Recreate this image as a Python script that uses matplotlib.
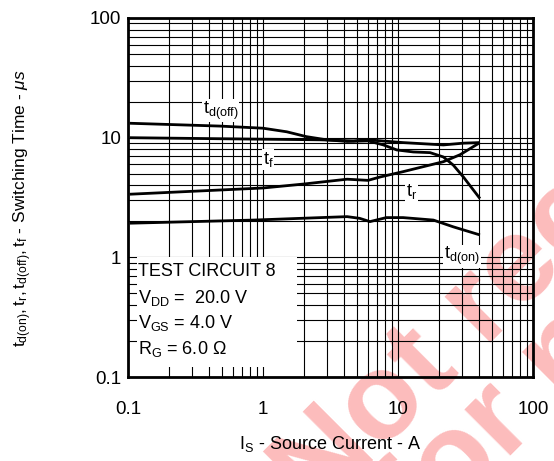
#!/usr/bin/env python3
"""
Switching time vs source current (log-log datasheet style chart).
"""

import matplotlib
matplotlib.use('Agg')
import matplotlib.pyplot as plt
from matplotlib.patches import Rectangle

plt.rcParams['font.family'] = ['Liberation Sans', 'DejaVu Sans']
plt.rcParams['mathtext.fontset'] = 'custom'
plt.rcParams['mathtext.rm'] = 'Liberation Sans'
plt.rcParams['mathtext.it'] = 'Liberation Sans:italic'
plt.rcParams['mathtext.bf'] = 'Liberation Sans:bold'

# Curve data (Is in A, time in us)
td_off_x = [0.103, 0.48, 1.0, 1.5, 2.1, 2.96, 4.2, 6.0, 7.8, 9.8, 13, 17.3, 21.7, 25.7, 30.5, 40.5]
td_off_y = [13.2, 12.5, 12.0, 11.2, 10.2, 9.6, 9.3, 9.4, 8.7, 7.9, 7.6, 7.5, 6.9, 5.9, 4.7, 3.1]

tf_x = [0.103, 0.48, 2.64, 4.7, 6.0, 10.9, 21.7, 30.5, 40.5]
tf_y = [10.0, 9.8, 9.6, 9.4, 9.6, 9.1, 8.7, 9.0, 9.1]

tr_x = [0.103, 1.0, 2.0, 4.2, 6.0, 7.4, 10.9, 21.7, 28.8, 40.5]
tr_y = [3.37, 3.8, 4.1, 4.5, 4.4, 4.7, 5.2, 6.3, 7.2, 9.1]

td_on_x = [0.103, 0.85, 4.2, 5.2, 6.2, 8.2, 10.9, 18.3, 25.7, 40.5]
td_on_y = [1.93, 2.05, 2.19, 2.12, 1.99, 2.15, 2.15, 2.05, 1.80, 1.54]

ticks = [0.1, 1, 10, 100]
tick_labels = ['0.1', '1', '10', '100']

fig = plt.figure(figsize=(5.54, 4.61), dpi=100)
ax = fig.add_axes([0.231, 0.182, 0.731, 0.779])
ax.patch.set_alpha(0)

# watermark behind everything
wm = dict(color='#fcbcbc', fontsize=88, fontweight='bold', rotation=45,
          rotation_mode='anchor', ha='left', va='baseline', zorder=-1)
fig.text(0.572, -0.119, 'Not recommended', **wm)
fig.text(0.765, -0.176, 'for new designs', **wm)

ax.set_xscale('log')
ax.set_yscale('log')
ax.set_xlim(0.1, 100)
ax.set_ylim(0.1, 100)

ax.grid(True, which='both', color='black', linewidth=0.8)
ax.set_axisbelow(True)

for xs, ys in [(td_off_x, td_off_y), (tf_x, tf_y), (tr_x, tr_y), (td_on_x, td_on_y)]:
    ax.plot(xs, ys, color='black', linewidth=2.0, solid_joinstyle='round',
            solid_capstyle='butt', zorder=4)

ax.set_xticks(ticks)
ax.set_xticklabels(tick_labels)
ax.set_yticks(ticks)
ax.set_yticklabels(tick_labels)
ax.tick_params(which='both', length=0, labelsize=13.5)
ax.tick_params(axis='x', pad=17)
ax.tick_params(axis='y', pad=5)

for sp in ax.spines.values():
    sp.set_linewidth(2)
    sp.set_zorder(6)

# curve labels with white background
lab = dict(fontsize=13, ha='left', va='center', zorder=5,
           bbox=dict(facecolor='white', edgecolor='none', pad=0.5))
ax.text(0.357, 16.9, r'$\mathregular{t_{d(off)}}$', **lab)
ax.text(1.0, 6.6, r'$\mathregular{t_f}$', **lab)
ax.text(11.5, 3.54, r'$\mathregular{t_r}$', **lab)
ax.text(22, 1.02, r'$\mathregular{t_{d(on)}}$', **lab)

# test conditions box
ax.add_patch(Rectangle((0.022, 0.028), 0.395, 0.306, transform=ax.transAxes,
                       facecolor='white', edgecolor='none', zorder=3))
cond = dict(fontsize=13, ha='left', va='center', transform=ax.transAxes, zorder=5)
ax.text(0.024, 0.295, 'TEST CIRCUIT 8', **cond)
ax.text(0.024, 0.220, r'$\mathregular{V_{DD}}$ =  20.0 V', **cond)
ax.text(0.024, 0.150, r'$\mathregular{V_{GS}}$ = 4.0 V', **cond)
ax.text(0.024, 0.078, r'$\mathregular{R_G}$ = 6.0 Ω', **cond)

ax.set_xlabel(r'$\mathregular{I_S}$ - Source Current - A', fontsize=13, labelpad=12)
ax.set_ylabel(r'$\mathregular{t_{d(on)}, t_r, t_{d(off)}, t_f}$ - Switching Time - $\mathit{\mu s}$',
              fontsize=12.5)
ax.yaxis.set_label_coords(-0.232, 0.47)

fig.savefig('out.png', dpi=100)
